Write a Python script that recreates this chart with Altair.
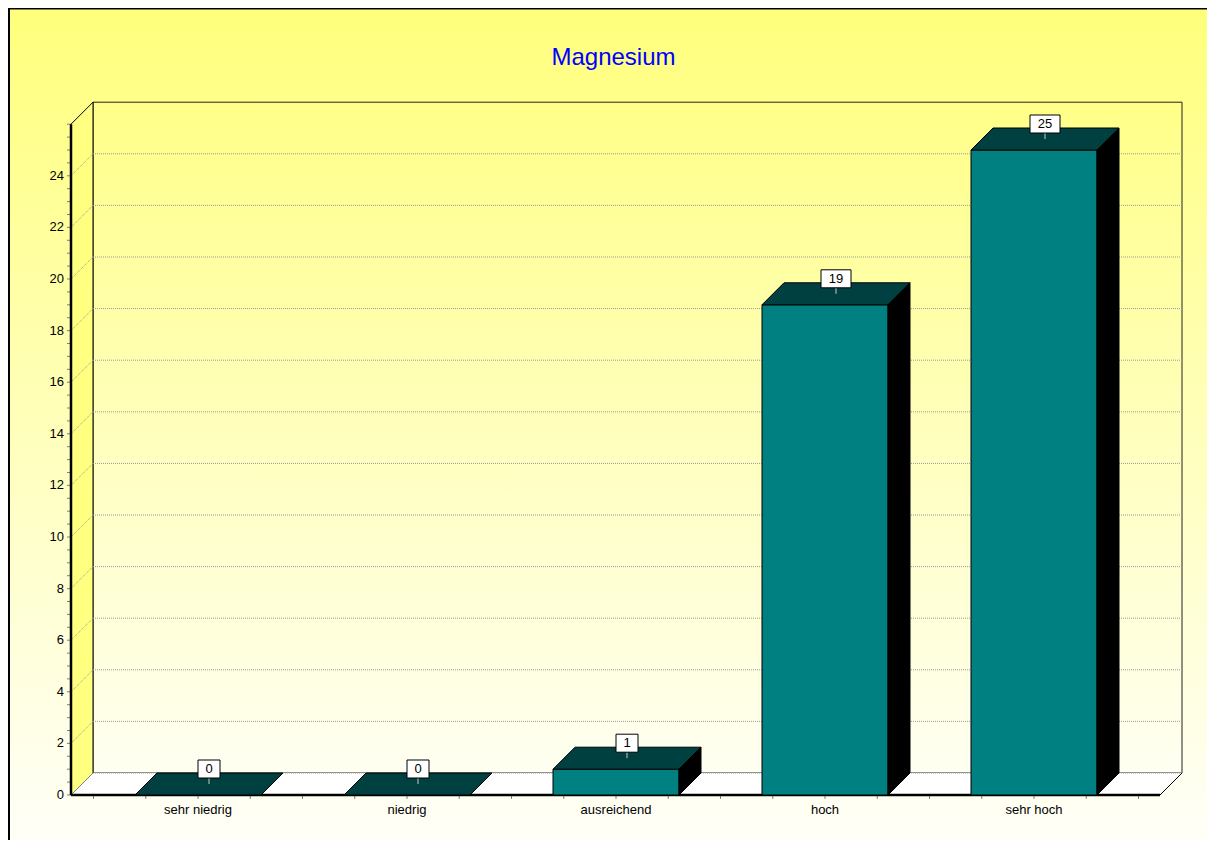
import altair as alt
import pandas as pd

# ---- data ----
categories = ["sehr niedrig", "niedrig", "ausreichend", "hoch", "sehr hoch"]
counts = [0, 0, 1, 19, 25]
y_label_values = [0, 2, 4, 6, 8, 10, 12, 14, 16, 18, 20, 22, 24]
y_tick_values = [0.5 * k for k in range(53)]          # 0 .. 26 every 0.5
x_tick_values = [-0.5 + 0.25 * k for k in range(21)]  # quarter-category ticks
title_text = "Magnesium"

# ---- layout (pixels) ----
W, H = 1199, 832          # plot area = whole canvas
PXX, PXY = 209.0, 25.8    # pixels per category step / per count unit
X0, Y0 = 190.0, 787.0     # plot pixel of category 0 / of value 0
DX = 22.0 / PXX           # 3D depth offset in data units
DY = 22.0 / PXY
HW = 63.0 / PXX           # half bar width
AXIS_MAX = 26
FL = -127.0 / PXX         # front-left floor corner
FR = 962.0 / PXX          # front-right floor corner
FONT = "Liberation Sans"

xs = alt.Scale(domain=[-X0 / PXX, (W - X0) / PXX], nice=False, zero=False)
ys = alt.Scale(domain=[-(H - Y0) / PXY, Y0 / PXY], nice=False, zero=False)


def X(f, **kw):
    return alt.X(f, type="quantitative", scale=xs, axis=None, **kw)


def Y(f, **kw):
    return alt.Y(f, type="quantitative", scale=ys, axis=None, **kw)


one = pd.DataFrame({"a": [0]})

bg_grad = alt.LinearGradient(
    gradient="linear", x1=0, y1=0, x2=0, y2=1,
    stops=[alt.GradientStop(offset=0, color="#FFFF7C"),
           alt.GradientStop(offset=1, color="#FFFFF8")])
panel_grad = alt.LinearGradient(
    gradient="linear", x1=0, y1=0, x2=0, y2=1,
    stops=[alt.GradientStop(offset=0, color="#FFFF88"),
           alt.GradientStop(offset=1, color="#FFFFF2")])

background = alt.Chart(one).mark_rect(fill=bg_grad, strokeWidth=0).encode(
    x=alt.value(0), x2=alt.value(W), y=alt.value(0), y2=alt.value(H))

# back panel
panel_df = pd.DataFrame({"x": [FL + DX], "x2": [FR + DX], "y": [DY], "y2": [AXIS_MAX + DY]})
panel = alt.Chart(panel_df).mark_rect(fill=panel_grad, stroke="#222222", strokeWidth=1).encode(
    x=X("x"), x2="x2", y=Y("y"), y2="y2")

# left wall
wall_df = pd.DataFrame({"x": [FL, FL + DX], "ya": [0, DY], "yb": [AXIS_MAX, AXIS_MAX + DY]})
wall = alt.Chart(wall_df).mark_area(orient="vertical", fill="#FFFF80", stroke="black",
                                    strokeWidth=1).encode(
    x=X("x"), y=Y("ya"), y2="yb")

# floor
floor_df = pd.DataFrame({"y": [0, DY], "xa": [FL, FL + DX], "xb": [FR, FR + DX]})
floor = alt.Chart(floor_df).mark_area(orient="horizontal", fill="white", strokeWidth=0).encode(
    y=Y("y"), x=X("xa"), x2="xb")

# gridlines
GRID = dict(color="#9A9A9A", strokeDash=[1, 1], strokeWidth=1)
grid_df = pd.DataFrame({"v": y_label_values})
grid_diag = alt.Chart(grid_df).transform_filter("datum.v > 0").transform_calculate(
    x1=f"{FL}", x2=f"{FL + DX}", y2=f"datum.v + {DY}").mark_rule(**GRID).encode(
    x=X("x1:Q"), x2="x2:Q", y=Y("v:Q"), y2="y2:Q")
grid_h = alt.Chart(grid_df).transform_calculate(
    x1=f"{FL + DX}", x2=f"{FR + DX}", yb=f"datum.v + {DY}").mark_rule(**GRID).encode(
    x=X("x1:Q"), x2="x2:Q", y=Y("yb:Q"))

# axis lines
yaxis_line = alt.Chart(one).transform_calculate(x=f"{FL}", y1="0", y2=f"{AXIS_MAX}").mark_rule(
    color="black", strokeWidth=2.5).encode(x=X("x:Q"), y=Y("y1:Q"), y2="y2:Q")
floor_front = alt.Chart(one).transform_calculate(x1=f"{FL}", x2=f"{FR}", y="0").mark_rule(
    color="black", strokeWidth=2.5).encode(x=X("x1:Q"), x2="x2:Q", y=Y("y:Q"))
floor_right = alt.Chart(one).transform_calculate(
    x1=f"{FR}", x2=f"{FR + DX}", y1="0", y2=f"{DY}").mark_rule(
    color="black", strokeWidth=1).encode(x=X("x1:Q"), x2="x2:Q", y=Y("y1:Q"), y2="y2:Q")

# ticks and tick labels (drawn through the scales)
yt_df = pd.DataFrame({"t": y_tick_values})
y_ticks = alt.Chart(yt_df).transform_calculate(
    x1=f"{FL - 4 / PXX}", x2=f"{FL}").mark_rule(color="#808080", strokeWidth=1).encode(
    x=X("x1:Q"), x2="x2:Q", y=Y("t:Q"))
y_labels = alt.Chart(grid_df).transform_calculate(
    x=f"{FL}", lbl="toString(datum.v)").mark_text(
    font=FONT, fontSize=13, color="black", align="right", baseline="middle", dx=-7).encode(
    x=X("x:Q"), y=Y("v:Q"), text="lbl:N")

xt_df = pd.DataFrame({"t": x_tick_values})
x_ticks = alt.Chart(xt_df).transform_calculate(
    y1="0", y2=f"{-4 / PXY}").mark_rule(color="#808080", strokeWidth=1).encode(
    x=X("t:Q"), y=Y("y1:Q"), y2="y2:Q")

bars_df = pd.DataFrame({"cat": categories, "v": counts, "i": list(range(len(categories)))})
x_labels = alt.Chart(bars_df).transform_calculate(y0="0").mark_text(
    font=FONT, fontSize=13, color="black", align="center", baseline="top", dy=9).encode(
    x=X("i:Q"), y=Y("y0:Q"), text="cat:N")

# bars
front = alt.Chart(bars_df).transform_calculate(
    xl=f"datum.i - {HW}", xr=f"datum.i + {HW}", y0="0").mark_rect(
    fill="#008080", stroke="black", strokeWidth=1).encode(
    x=X("xl:Q"), x2="xr:Q", y=Y("y0:Q"), y2="v:Q")

top_rows = []
side_rows = []
for i, (c, v) in enumerate(zip(categories, counts)):
    top_rows.append({"cat": c, "yy": v, "xa": i - HW, "xb": i + HW})
    top_rows.append({"cat": c, "yy": v + DY, "xa": i - HW + DX, "xb": i + HW + DX})
    side_rows.append({"cat": c, "xx": i + HW, "ya": 0, "yb": v})
    side_rows.append({"cat": c, "xx": i + HW + DX, "ya": DY, "yb": v + DY})

top = alt.Chart(pd.DataFrame(top_rows)).mark_area(
    orient="horizontal", fill="#004040", stroke="black", strokeWidth=1).encode(
    y=Y("yy:Q"), x=X("xa:Q"), x2="xb:Q", detail="cat:N")
side = alt.Chart(pd.DataFrame(side_rows)).mark_area(
    orient="vertical", fill="black", stroke="black", strokeWidth=1).encode(
    x=X("xx:Q"), y=Y("ya:Q"), y2="yb:Q", detail="cat:N")

# value labels
lab = alt.Chart(bars_df).transform_calculate(
    lbl="toString(datum.v)",
    cx=f"datum.i + {DX / 2}",
    ym=f"datum.v + {DY / 2}",
    yb=f"datum.v + {DY / 2} + {6 / PXY}",
    yt=f"datum.v + {DY / 2} + {24 / PXY}",
    yc=f"datum.v + {DY / 2} + {15 / PXY}",
    bw=f"(14 + 8 * length(toString(datum.v))) / 2 / {PXX}",
    xl="datum.cx - datum.bw",
    xr="datum.cx + datum.bw",
)
lab_tick = lab.mark_rule(color="#C8C8C8", strokeWidth=1).encode(
    x=X("cx:Q"), y=Y("ym:Q"), y2="yb:Q")
lab_box = lab.mark_rect(fill="white", stroke="black", strokeWidth=1).encode(
    x=X("xl:Q"), x2="xr:Q", y=Y("yb:Q"), y2="yt:Q")
lab_text = lab.mark_text(font=FONT, fontSize=13, color="black", baseline="middle",
                         align="center").encode(x=X("cx:Q"), y=Y("yc:Q"), text="lbl:N")

title = alt.Chart(one).mark_text(font=FONT, fontSize=24, color="#0000FF", align="center",
                                 baseline="alphabetic").encode(
    x=alt.value(605.5), y=alt.value(57), text=alt.value(title_text))

border_left = alt.Chart(one).mark_rule(color="black", strokeWidth=2).encode(
    x=alt.value(1), y=alt.value(0), y2=alt.value(H))
border_top = alt.Chart(one).mark_rule(color="black", strokeWidth=2).encode(
    x=alt.value(0), x2=alt.value(W), y=alt.value(0.5))

chart = alt.layer(
    background, panel, wall, floor, grid_diag, grid_h,
    y_ticks, x_ticks, yaxis_line, floor_front, floor_right, y_labels, x_labels,
    front, top, side, lab_tick, lab_box, lab_text, title, border_left, border_top,
).properties(
    width=W, height=H, padding=0, autosize=alt.AutoSizeParams(type="none"),
).configure_view(strokeWidth=0).configure(background="white")

chart.save("out.html", embed_options={"renderer": "svg", "actions": False})
